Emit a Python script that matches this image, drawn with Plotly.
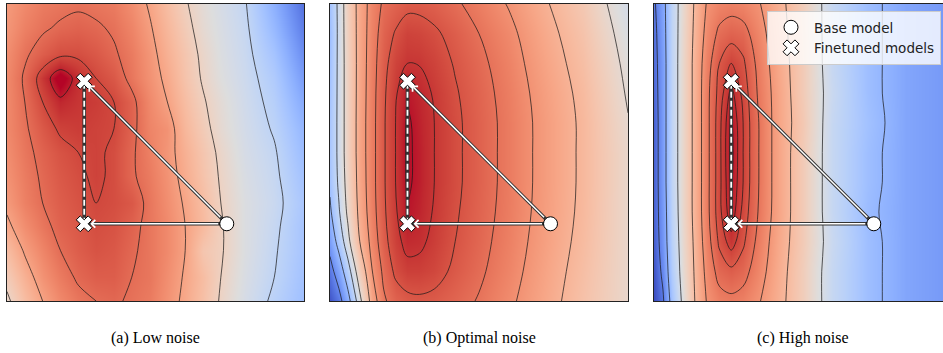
import plotly.graph_objects as go

# ---------------- data ----------------
captions = ["(a) Low noise", "(b) Optimal noise", "(c) High noise"]

base_x = [0.74]
base_y = [0.26]
fine_x = [0.26, 0.26]
fine_y = [0.26, 0.74]

# Panel (a) low noise
x_low = [0, 0.06, 0.12, 0.18, 0.24, 0.30, 0.36, 0.42, 0.48, 0.54, 0.60, 0.66, 0.72, 0.80, 0.90, 1.0]
y_low = [0, 0.08, 0.17, 0.25, 0.33, 0.42, 0.50, 0.58, 0.67, 0.75, 0.83, 0.92, 1.0]
z_low = [
    [0.50, 0.60, 0.68, 0.74, 0.78, 0.80, 0.81, 0.79, 0.77, 0.72, 0.66, 0.59, 0.51, 0.42, 0.33, 0.25],
    [0.55, 0.64, 0.72, 0.77, 0.81, 0.83, 0.83, 0.80, 0.78, 0.73, 0.67, 0.60, 0.52, 0.43, 0.35, 0.26],
    [0.60, 0.69, 0.75, 0.80, 0.83, 0.85, 0.84, 0.81, 0.78, 0.74, 0.68, 0.57, 0.53, 0.44, 0.36, 0.27],
    [0.66, 0.73, 0.78, 0.82, 0.84, 0.86, 0.85, 0.82, 0.78, 0.74, 0.68, 0.61, 0.53, 0.44, 0.37, 0.27],
    [0.70, 0.76, 0.80, 0.83, 0.85, 0.87, 0.86, 0.84, 0.78, 0.73, 0.67, 0.60, 0.52, 0.44, 0.38, 0.28],
    [0.72, 0.77, 0.81, 0.84, 0.86, 0.88, 0.86, 0.81, 0.77, 0.72, 0.65, 0.58, 0.51, 0.43, 0.37, 0.26],
    [0.73, 0.78, 0.82, 0.85, 0.87, 0.88, 0.86, 0.81, 0.76, 0.71, 0.64, 0.57, 0.50, 0.42, 0.36, 0.24],
    [0.74, 0.79, 0.84, 0.88, 0.89, 0.88, 0.87, 0.82, 0.75, 0.72, 0.62, 0.55, 0.48, 0.41, 0.34, 0.22],
    [0.74, 0.80, 0.87, 0.92, 0.90, 0.89, 0.87, 0.82, 0.74, 0.68, 0.60, 0.53, 0.47, 0.40, 0.32, 0.18],
    [0.74, 0.81, 0.90, 0.97, 0.91, 0.87, 0.84, 0.78, 0.72, 0.66, 0.58, 0.51, 0.45, 0.39, 0.30, 0.14],
    [0.73, 0.79, 0.83, 0.86, 0.86, 0.84, 0.81, 0.77, 0.71, 0.64, 0.57, 0.50, 0.44, 0.38, 0.27, 0.10],
    [0.71, 0.76, 0.79, 0.81, 0.82, 0.81, 0.79, 0.75, 0.69, 0.62, 0.55, 0.48, 0.43, 0.37, 0.23, 0.06],
    [0.70, 0.74, 0.77, 0.78, 0.79, 0.78, 0.77, 0.73, 0.67, 0.60, 0.53, 0.47, 0.42, 0.36, 0.20, 0.03],
]
levels_low = [0.35, 0.52, 0.68, 0.80, 0.87, 0.93, 0.97]

# Panels (b) and (c) share a grid
x_grid = [0, 0.03, 0.06, 0.10, 0.14, 0.18, 0.22, 0.26, 0.30, 0.35, 0.42, 0.50, 0.60, 0.72, 0.85, 1.0]
y_grid = [0, 0.1, 0.2, 0.3, 0.4, 0.5, 0.6, 0.7, 0.8, 0.9, 1.0]

z_opt = [
    [0.02, 0.10, 0.25, 0.50, 0.72, 0.83, 0.87, 0.885, 0.89, 0.885, 0.865, 0.835, 0.785, 0.715, 0.635, 0.545],
    [0.10, 0.22, 0.38, 0.60, 0.765, 0.855, 0.912, 0.935, 0.935, 0.922, 0.888, 0.852, 0.80, 0.725, 0.645, 0.545],
    [0.20, 0.35, 0.50, 0.68, 0.795, 0.88, 0.935, 0.965, 0.96, 0.938, 0.90, 0.862, 0.81, 0.735, 0.655, 0.545],
    [0.28, 0.42, 0.55, 0.71, 0.81, 0.89, 0.945, 0.985, 0.973, 0.946, 0.907, 0.868, 0.817, 0.742, 0.662, 0.545],
    [0.32, 0.45, 0.57, 0.72, 0.815, 0.893, 0.95, 0.994, 0.978, 0.95, 0.912, 0.872, 0.82, 0.745, 0.665, 0.545],
    [0.33, 0.46, 0.58, 0.725, 0.815, 0.893, 0.95, 0.995, 0.978, 0.95, 0.912, 0.872, 0.82, 0.745, 0.665, 0.545],
    [0.33, 0.46, 0.58, 0.725, 0.815, 0.893, 0.95, 0.994, 0.975, 0.95, 0.912, 0.872, 0.82, 0.745, 0.665, 0.535],
    [0.32, 0.46, 0.58, 0.722, 0.813, 0.89, 0.945, 0.982, 0.97, 0.945, 0.906, 0.867, 0.815, 0.738, 0.658, 0.52],
    [0.31, 0.46, 0.58, 0.72, 0.81, 0.882, 0.93, 0.95, 0.948, 0.93, 0.895, 0.857, 0.805, 0.725, 0.645, 0.505],
    [0.30, 0.46, 0.585, 0.72, 0.805, 0.87, 0.905, 0.93, 0.925, 0.91, 0.88, 0.84, 0.79, 0.71, 0.63, 0.485],
    [0.32, 0.46, 0.59, 0.72, 0.80, 0.85, 0.87, 0.885, 0.885, 0.875, 0.85, 0.815, 0.765, 0.69, 0.61, 0.46],
]
levels_opt = [0.15, 0.30, 0.43, 0.53, 0.68, 0.77, 0.84, 0.90, 0.95, 0.988]

z_high = [
    [0.00, 0.10, 0.32, 0.52, 0.67, 0.77, 0.81, 0.82, 0.81, 0.77, 0.69, 0.59, 0.42, 0.30, 0.22, 0.18],
    [0.02, 0.15, 0.36, 0.54, 0.68, 0.79, 0.86, 0.88, 0.86, 0.80, 0.70, 0.59, 0.42, 0.30, 0.22, 0.18],
    [0.04, 0.18, 0.38, 0.55, 0.69, 0.81, 0.90, 0.95, 0.90, 0.82, 0.71, 0.60, 0.43, 0.30, 0.22, 0.18],
    [0.05, 0.19, 0.39, 0.56, 0.70, 0.82, 0.92, 0.98, 0.92, 0.835, 0.72, 0.60, 0.42, 0.29, 0.22, 0.18],
    [0.05, 0.20, 0.40, 0.56, 0.70, 0.82, 0.92, 0.99, 0.93, 0.84, 0.72, 0.60, 0.42, 0.30, 0.22, 0.18],
    [0.05, 0.20, 0.40, 0.56, 0.70, 0.82, 0.92, 0.995, 0.93, 0.84, 0.72, 0.60, 0.42, 0.30, 0.22, 0.18],
    [0.05, 0.20, 0.40, 0.56, 0.70, 0.82, 0.92, 0.99, 0.93, 0.84, 0.72, 0.61, 0.42, 0.31, 0.22, 0.18],
    [0.06, 0.20, 0.40, 0.56, 0.70, 0.82, 0.91, 0.97, 0.92, 0.83, 0.72, 0.60, 0.43, 0.30, 0.22, 0.18],
    [0.07, 0.20, 0.40, 0.56, 0.70, 0.81, 0.89, 0.93, 0.90, 0.82, 0.71, 0.60, 0.42, 0.30, 0.22, 0.18],
    [0.08, 0.21, 0.40, 0.555, 0.69, 0.79, 0.85, 0.87, 0.86, 0.80, 0.70, 0.595, 0.42, 0.30, 0.22, 0.18],
    [0.10, 0.22, 0.40, 0.55, 0.68, 0.77, 0.80, 0.81, 0.80, 0.77, 0.69, 0.59, 0.42, 0.30, 0.22, 0.18],
]
levels_high = [0.12, 0.27, 0.48, 0.66, 0.76, 0.835, 0.89, 0.93, 0.96, 0.985]

# ---------------- style ----------------
W, H = 943, 353
coolwarm = [(59,76,192),(68,90,204),(77,104,215),(87,117,225),(98,130,234),(108,142,241),
            (119,154,247),(130,165,251),(141,176,254),(152,185,255),(163,194,255),(174,201,253),
            (184,208,249),(194,213,244),(204,217,238),(213,219,230),(221,221,221),(229,216,209),
            (236,211,197),(241,204,185),(245,196,173),(247,187,160),(247,177,148),(247,166,135),
            (244,154,123),(241,141,111),(236,127,99),(229,112,88),(222,96,77),(213,80,66),
            (203,62,56),(192,40,47),(180,4,38)]
cscale = [[i / (len(coolwarm) - 1), "rgb(%d,%d,%d)" % c] for i, c in enumerate(coolwarm)]

panels = [
    dict(x=x_low, y=y_low, z=z_low, levels=levels_low, xd=[7 / W, 304 / W], xr=[0, 1], n="",
         zr=[-0.05, 0.95]),
    dict(x=x_grid, y=y_grid, z=z_opt, levels=levels_opt, xd=[330 / W, 628 / W], xr=[0, 1], n="2",
         zr=[0, 1]),
    dict(x=x_grid, y=y_grid, z=z_high, levels=levels_high, xd=[654 / W, 1.0],
         xr=[0, (W - 654) / 297.0], n="3", zr=[0, 1]),
]
ydom = [(H - 301) / H, (H - 4) / H]
line_col = "rgba(25,25,25,0.8)"

fig = go.Figure()
annotations = []
centers = [(7 + 304) / 2, (330 + 628) / 2, (654 + 951) / 2]

for i, p in enumerate(panels):
    xa, ya = "x" + p["n"], "y" + p["n"]
    fig.add_trace(go.Contour(
        x=p["x"], y=p["y"], z=p["z"], colorscale=cscale, zmin=p["zr"][0], zmax=p["zr"][1],
        contours=dict(coloring="heatmap", showlines=False, start=0, end=1, size=0.1),
        line=dict(width=0), showscale=False, hoverinfo="skip", xaxis=xa, yaxis=ya))
    for L in p["levels"]:
        fig.add_trace(go.Contour(
            x=p["x"], y=p["y"], z=p["z"], autocontour=False,
            contours=dict(coloring="none", showlines=True, start=L, end=L, size=1),
            line=dict(color=line_col, width=0.9, smoothing=1.0),
            showscale=False, hoverinfo="skip", showlegend=False, xaxis=xa, yaxis=ya))
    for fx, fy in zip(fine_x, fine_y):
        fig.add_trace(go.Scatter(x=[base_x[0], fx], y=[base_y[0], fy], mode="lines",
                                 line=dict(color="#333333", width=3.4), hoverinfo="skip",
                                 showlegend=False, xaxis=xa, yaxis=ya))
    fig.add_trace(go.Scatter(x=fine_x, y=fine_y, mode="lines",
                             line=dict(color="#333333", width=3.6), hoverinfo="skip",
                             showlegend=False, xaxis=xa, yaxis=ya))
    fig.add_trace(go.Scatter(x=fine_x, y=fine_y, mode="lines",
                             line=dict(color="white", width=1.8, dash="6px,3px"), hoverinfo="skip",
                             showlegend=False, xaxis=xa, yaxis=ya))
    for fx, fy in zip(fine_x, fine_y):
        annotations.append(dict(x=fx, y=fy, ax=base_x[0], ay=base_y[0], xref=xa, yref=ya,
                                axref=xa, ayref=ya, text="", showarrow=True, arrowhead=4,
                                arrowsize=1.0, arrowwidth=1.5, arrowcolor="white",
                                standoff=6, startstandoff=7))
    fig.add_trace(go.Scatter(x=base_x, y=base_y, mode="markers", name="Base model",
                             marker=dict(symbol="circle", size=14, color="white",
                                         line=dict(color="black", width=1)),
                             showlegend=(i == 2), hoverinfo="skip", xaxis=xa, yaxis=ya))
    fig.add_trace(go.Scatter(x=fine_x, y=fine_y, mode="markers", name="Finetuned models",
                             marker=dict(symbol="x", size=14, color="white",
                                         line=dict(color="black", width=1)),
                             showlegend=(i == 2), hoverinfo="skip", xaxis=xa, yaxis=ya))
    axkey = "xaxis" + p["n"]
    aykey = "yaxis" + p["n"]
    fig.layout[axkey] = dict(domain=p["xd"], range=p["xr"], anchor=ya, showticklabels=False,
                             ticks="", showgrid=False, zeroline=False, showline=True,
                             linecolor="#222222", linewidth=1, mirror=True)
    fig.layout[aykey] = dict(domain=ydom, range=[0, 1], anchor=xa, showticklabels=False,
                             ticks="", showgrid=False, zeroline=False, showline=True,
                             linecolor="#222222", linewidth=1, mirror=(i != 2))
    annotations.append(dict(x=centers[i] / W, y=(H - 338) / H, xref="paper", yref="paper",
                            text=captions[i], showarrow=False, xanchor="center", yanchor="middle",
                            font=dict(family="Liberation Serif, Times New Roman, serif",
                                      size=16, color="black")))

fig.update_layout(
    width=W, height=H, margin=dict(l=0, r=0, t=0, b=0),
    paper_bgcolor="white", plot_bgcolor="white",
    annotations=annotations,
    legend=dict(x=767 / W, y=1 - 11 / H, xanchor="left", yanchor="top",
                bgcolor="rgba(255,255,255,0.8)", bordercolor="#cccccc", borderwidth=1,
                font=dict(family="DejaVu Sans", size=13.5, color="#222222"),
                tracegroupgap=0, itemwidth=36),
)

fig.write_html("out.html", config={"displayModeBar": False},
               post_script="document.body.style.margin='0';document.body.style.padding='0';")
